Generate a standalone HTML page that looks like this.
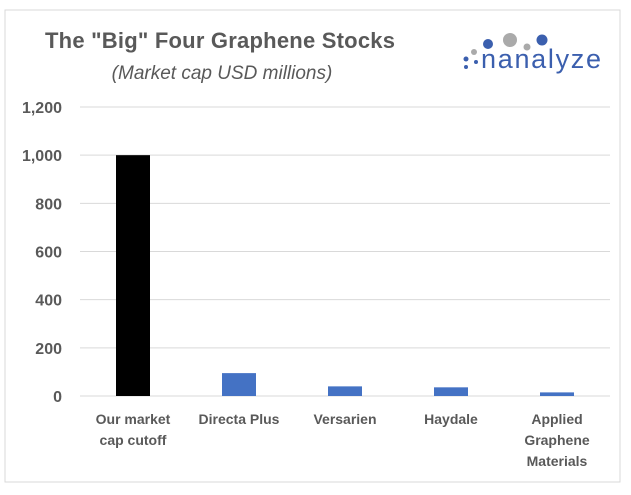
<!DOCTYPE html>
<html><head><meta charset="utf-8"><style>
body{margin:0;background:#fff;}
svg text{font-family:"Liberation Sans",sans-serif;}
</style></head><body>
<svg width="631" height="490" xmlns="http://www.w3.org/2000/svg">
<rect x="5" y="10" width="615" height="472" fill="#fff" stroke="#d9d9d9"/>
<text x="220" y="48" text-anchor="middle" font-size="22" font-weight="bold" fill="#595959" textLength="350">The "Big" Four Graphene Stocks</text>
<text x="222" y="79" text-anchor="middle" font-size="19" font-style="italic" fill="#595959">(Market cap USD millions)</text>
<g>
<circle cx="466" cy="59" r="2.5" fill="#3b5fae"/><circle cx="466" cy="67" r="2" fill="#3b5fae"/>
<circle cx="474" cy="52" r="3" fill="#aaa"/><circle cx="476" cy="62" r="2" fill="#3b5fae"/>
<circle cx="488" cy="44" r="5" fill="#3b5fae"/><circle cx="510" cy="40" r="7" fill="#aaa"/>
<circle cx="527" cy="47" r="3.5" fill="#aaa"/><circle cx="542" cy="40" r="5.5" fill="#3b5fae"/>
<text x="481" y="68" font-size="27" fill="#3b5fae" textLength="120">nanalyze</text>
</g>
<g id="axes"></g>
<g id="bars"></g>
</svg>
<script>
const categories=[["Our market","cap cutoff"],["Directa Plus"],["Versarien"],["Haydale"],["Applied","Graphene","Materials"]];
const values=[1000,95,40,36,15];
const colors=["#000000","#4472c4","#4472c4","#4472c4","#4472c4"];
const ticks=[0,200,400,600,800,1000,1200];
const tickLabels=["0","200","400","600","800","1,000","1,200"];
const NS="http://www.w3.org/2000/svg";
const x0=80,x1=610,yBase=396,yTop=107,vMax=1200;
const y=v=>yBase-(v/vMax)*(yBase-yTop);
const bw=(x1-x0)/categories.length;
const xc=i=>x0+bw*(i+0.5);
const ax=document.getElementById('axes'),bg=document.getElementById('bars');
function mk(tag,attrs,parent){const e=document.createElementNS(NS,tag);for(const k in attrs)e.setAttribute(k,attrs[k]);parent.appendChild(e);return e;}
ticks.forEach((t,i)=>{
 const g=mk('line',{x1:x0,x2:x1,y1:y(t),y2:y(t),stroke:'#d9d9d9','stroke-width':1},ax);
 
 
 const tx=mk('text',{x:62,y:y(t)+6,'text-anchor':'end','font-size':16,'font-weight':'bold',fill:'#595959'},ax);
 tx.textContent=tickLabels[i];
 
 
});
values.forEach((v,i)=>{
 const r=mk('rect',{x:xc(i)-17,y:y(v),width:34,height:yBase-y(v),fill:colors[i]},bg);
 
 
 categories[i].forEach((line,j)=>{
  const t=mk('text',{x:xc(i),y:424+j*21,'text-anchor':'middle','font-size':14,'font-weight':'bold',fill:'#595959'},bg);
  t.textContent=line;
  
  
 });
});
</script>
</body></html>
